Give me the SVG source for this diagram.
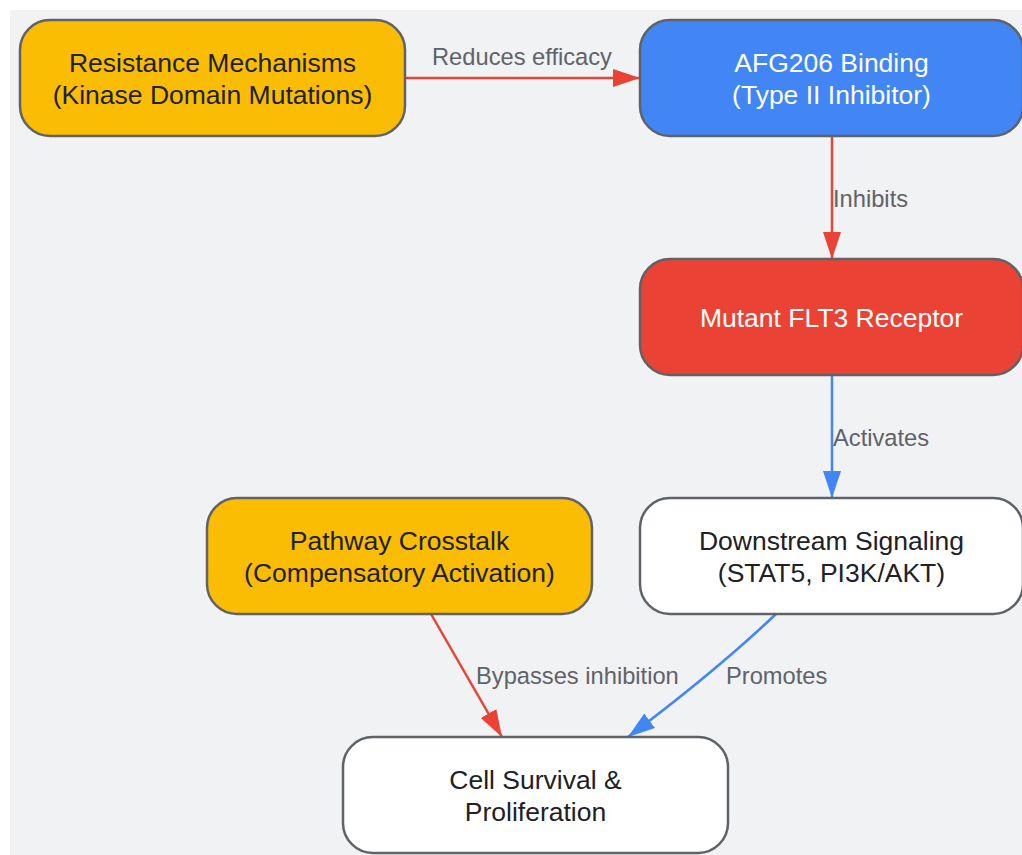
<svg xmlns="http://www.w3.org/2000/svg" width="1022" height="855" viewBox="0 0 1022 855">
<defs>
<style>
.node rect{stroke:#5f6368;stroke-width:2.5}
.nt{font-family:"Liberation Sans",Arial,sans-serif;font-size:26.5px;text-anchor:middle;fill:#202124}
.nt.w{fill:#ffffff}
.lbl{font-family:"Liberation Sans",Arial,sans-serif;font-size:23.7px;fill:#5f6368}
.edge{fill:none;stroke-width:2.5}
.red{stroke:#ea4335}
.blue{stroke:#4285f4}
</style>
<marker id="arR" markerUnits="userSpaceOnUse" markerWidth="28" markerHeight="20" refX="27" refY="9" orient="auto" viewBox="0 0 28 20">
<path d="M0,0 L27,9 L0,18 z" fill="#ea4335"/>
</marker>
<marker id="arB" markerUnits="userSpaceOnUse" markerWidth="28" markerHeight="20" refX="27" refY="9" orient="auto" viewBox="0 0 28 20">
<path d="M0,0 L27,9 L0,18 z" fill="#4285f4"/>
</marker>
</defs>
<rect x="0" y="0" width="1022" height="855" fill="#ffffff"/>
<rect x="10" y="10" width="1012" height="845" fill="#f1f2f4"/>

<g id="connectors">
<path class="edge red" d="M405,78 L640,78" marker-end="url(#arR)"/>
<path class="edge red" d="M832,136 L832,259" marker-end="url(#arR)"/>
<path class="edge blue" d="M832,375 L832,498" marker-end="url(#arB)"/>
<path class="edge red" d="M431,614 L502,737" marker-end="url(#arR)"/>
<path class="edge blue" d="M776,614 Q716,671 628,737" marker-end="url(#arB)"/>
<text class="lbl" x="522" y="65" text-anchor="middle">Reduces efficacy</text>
<text class="lbl" x="833" y="207">Inhibits</text>
<text class="lbl" x="833" y="446">Activates</text>
<text class="lbl" x="476" y="684">Bypasses inhibition</text>
<text class="lbl" x="726" y="684">Promotes</text>
</g>

<g id="resistance" class="node">
<rect x="20" y="20" width="385" height="116" rx="30" fill="#fbbc04"/>
<text class="nt" x="212.5" y="72">Resistance Mechanisms</text>
<text class="nt" x="212.5" y="104">(Kinase Domain Mutations)</text>
</g>
<g id="afg206" class="node">
<rect x="640" y="20" width="383" height="116" rx="30" fill="#4285f4"/>
<text class="nt w" x="831.5" y="72">AFG206 Binding</text>
<text class="nt w" x="831.5" y="104">(Type II Inhibitor)</text>
</g>
<g id="flt3" class="node">
<rect x="640" y="259" width="383" height="116" rx="30" fill="#ea4335"/>
<text class="nt w" x="831.5" y="327">Mutant FLT3 Receptor</text>
</g>
<g id="downstream" class="node">
<rect x="640" y="498" width="383" height="116" rx="30" fill="#ffffff"/>
<text class="nt" x="831.5" y="550">Downstream Signaling</text>
<text class="nt" x="831.5" y="582">(STAT5, PI3K/AKT)</text>
</g>
<g id="crosstalk" class="node">
<rect x="207" y="498" width="385" height="116" rx="30" fill="#fbbc04"/>
<text class="nt" x="399.5" y="550">Pathway Crosstalk</text>
<text class="nt" x="399.5" y="582">(Compensatory Activation)</text>
</g>
<g id="survival" class="node">
<rect x="343" y="737" width="385" height="116" rx="30" fill="#ffffff"/>
<text class="nt" x="535.5" y="789">Cell Survival &amp;</text>
<text class="nt" x="535.5" y="821">Proliferation</text>
</g>
</svg>
